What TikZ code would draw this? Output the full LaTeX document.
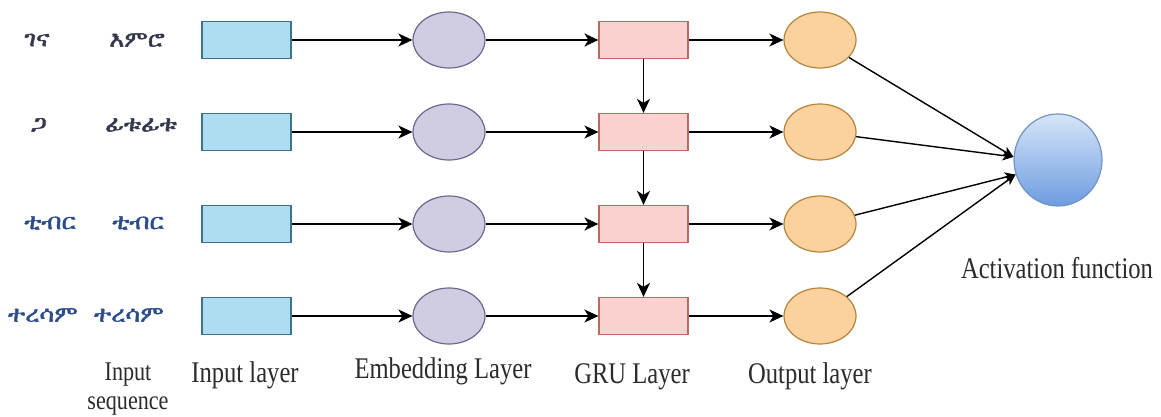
\documentclass[tikz,border=0pt]{standalone}
\usepackage{fontspec}
\setmainfont{Liberation Serif}
\newfontfamily\labelfont[FakeStretch=0.82]{Liberation Serif}
% Ethiopic words: first installed face that covers the script
\IfFontExistsTF{FreeSerif}
  {\newfontfamily\ethfont[FakeBold=2,FakeStretch=1.15]{FreeSerif}}
  {\IfFontExistsTF{Abyssinica SIL}
    {\newfontfamily\ethfont[FakeBold=2,FakeStretch=1.15]{Abyssinica SIL}}
    {\newfontfamily\ethfont{DejaVu Sans}}}
\usetikzlibrary{arrows.meta,shapes.geometric}

\definecolor{inFill}{HTML}{AEDCF0}
\definecolor{inEdge}{HTML}{3D7388}
\definecolor{embFill}{HTML}{D0CDE2}
\definecolor{embEdge}{HTML}{6B6890}
\definecolor{gruFill}{HTML}{F9D2D0}
\definecolor{gruEdge}{HTML}{B86A66}
\definecolor{outFill}{HTML}{FBD29D}
\definecolor{outEdge}{HTML}{B5853E}
\definecolor{actTop}{HTML}{D6E5F9}
\definecolor{actBottom}{HTML}{6D9CE0}
\definecolor{actEdge}{HTML}{7393C0}
\definecolor{lblGray}{HTML}{2B2B2B}
\definecolor{ethDark}{HTML}{33384D}
\definecolor{ethBlue}{HTML}{2D4D8A}

\begin{document}
\begin{tikzpicture}[x=1pt,y=-1pt,
  inbox/.style={rectangle, draw=inEdge, fill=inFill, line width=1.2pt,
    minimum width=89pt, minimum height=37pt, inner sep=0pt},
  grubox/.style={rectangle, draw=gruEdge, fill=gruFill, line width=1.2pt,
    minimum width=89pt, minimum height=37pt, inner sep=0pt},
  embnode/.style={ellipse, draw=embEdge, fill=embFill, line width=1.2pt,
    minimum width=72pt, minimum height=56pt, inner sep=0pt},
  outnode/.style={ellipse, draw=outEdge, fill=outFill, line width=1.2pt,
    minimum width=72pt, minimum height=56pt, inner sep=0pt},
  actnode/.style={ellipse, draw=actEdge, line width=1.2pt,
    top color=actTop, bottom color=actBottom,
    minimum width=88pt, minimum height=92pt, inner sep=0pt},
  flow/.style={draw=black, line width=1.7pt,
    -{Stealth[length=14pt,width=13pt,inset=4pt]}},
  merge/.style={draw=black, line width=1.4pt,
    -{Stealth[length=11pt,width=10pt,inset=3pt]}},
  lbl/.style={font=\labelfont\fontsize{30}{30}\selectfont, text=lblGray,
    inner sep=0pt, anchor=base, align=center},
  eth/.style={font=\ethfont\fontsize{22}{22}\selectfont, inner sep=0pt}
]
\useasboundingbox (0,0) rectangle (1161,417);
\fill[white] (0,0) rectangle (1161,417);

% the four time steps
\foreach \i/\y in {1/40,2/132,3/224,4/316}{
  \node[inbox]   (in\i)  at (246.5,\y) {};
  \node[embnode] (emb\i) at (449,\y) {};
  \node[grubox]  (gru\i) at (643.5,\y) {};
  \node[outnode] (out\i) at (820,\y) {};
  \draw[flow] (in\i) -- (emb\i);
  \draw[flow] (emb\i) -- (gru\i);
  \draw[flow] (gru\i) -- (out\i);
}

% recurrent links between GRU cells
\draw[flow] (gru1) -- (gru2);
\draw[flow] (gru2) -- (gru3);
\draw[flow] (gru3) -- (gru4);

% activation unit
\node[actnode] (act) at (1058,160) {};
\draw[merge] (out1) -- (act.176);
\draw[merge] (out2) -- (act.176);
\draw[merge] (out3) -- (act.199);
\draw[merge] (out4) -- (act.199);

% input words
\node[eth, text=ethDark] (w1a) at (37,40)  {ገና};
\node[eth, text=ethDark] (w1b) at (137,40) {እምሮ};
\node[eth, text=ethDark] (w2a) at (39,125) {ጋ};
\node[eth, text=ethDark] (w2b) at (141,125) {ፊቱፊቱ};
\node[eth, text=ethBlue] (w3a) at (50,223) {ቲብር};
\node[eth, text=ethBlue] (w3b) at (138,223) {ቲብር};
\node[eth, text=ethBlue] (w4a) at (43,315) {ተረሳም};
\node[eth, text=ethBlue] (w4b) at (129,315) {ተረሳም};

% column captions
\node[lbl, font=\labelfont\fontsize{27}{29}\selectfont] (capSeq) at (128,409) {Input\\sequence};
\node[lbl] (capIn)  at (245,382) {Input layer};
\node[lbl] (capEmb) at (443,378) {Embedding Layer};
\node[lbl] (capGru) at (632,383) {GRU Layer};
\node[lbl] (capOut) at (810,383) {Output layer};
\node[lbl] (capAct) at (1057,278) {Activation function};
\end{tikzpicture}
\end{document}
